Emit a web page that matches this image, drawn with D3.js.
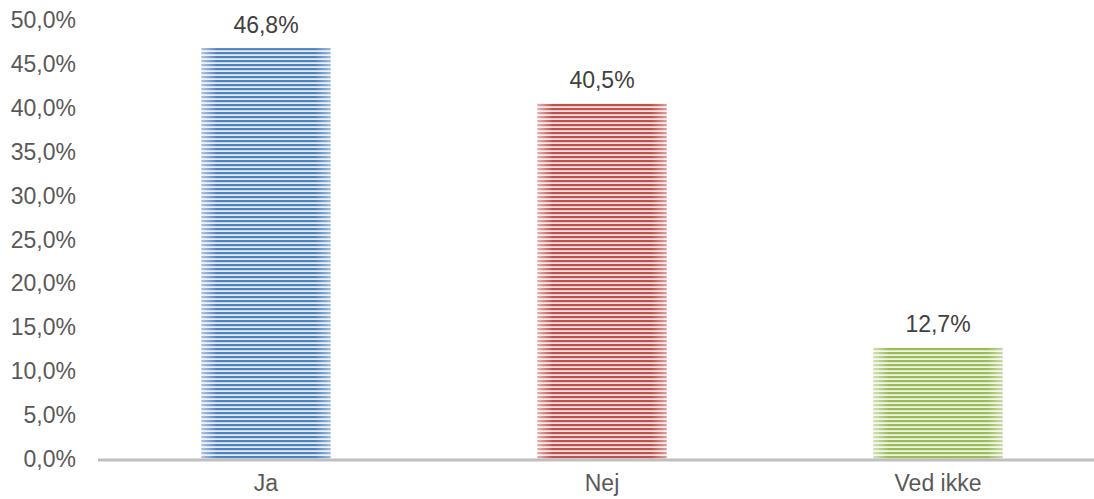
<!DOCTYPE html>
<html>
<head>
<meta charset="utf-8">
<script src="https://cdn.jsdelivr.net/npm/d3@7"></script>
<style>
	html, body { margin: 0; padding: 0; background: #fff; }
	svg { display: block; font-family: 'Liberation Sans', Arial, sans-serif; }
</style>
</head>
<body>
<svg width="1094" height="499"></svg>
<script>
const w = 1094;
const h = 499;

// data
const categories = ['Ja', 'Nej', 'Ved ikke'];
const values = [46.8, 40.5, 12.7];
const valueLabels = ['46,8%', '40,5%', '12,7%'];
const yTicks = [0, 5, 10, 15, 20, 25, 30, 35, 40, 45, 50];

const colors = [
	{ dark: '#4f81bd', light: '#e4ecf7' },
	{ dark: '#c0504d', light: '#f4e2e1' },
	{ dark: '#9bbb59', light: '#eef4e2' },
];

const svg = d3.select('svg');
const defs = svg.append('defs');

const xScale = d3.scaleBand()
	.domain(categories)
	.range([98, 1106])
	.paddingInner(0.616)
	.paddingOuter(0.308);

const yScale = d3.scaleLinear()
	.domain([0, 50])
	.range([459, 20]);

// stripe patterns
colors.forEach((c, i) => {
	const p = defs.append('pattern')
		.attr('id', 'stripe' + i)
		.attr('patternUnits', 'userSpaceOnUse')
		.attr('width', 8)
		.attr('height', 4);
	p.append('rect').attr('width', 8).attr('height', 4).attr('fill', c.light);
	p.append('rect').attr('width', 8).attr('height', 2.2).attr('fill', c.dark);
});

// edge shading
const grad = defs.append('linearGradient').attr('id', 'edge');
[[0, 0.55], [0.12, 0], [0.88, 0], [1, 0.45]].forEach(([o, a]) => {
	grad.append('stop').attr('offset', o).attr('stop-color', '#fff').attr('stop-opacity', a);
});

// y axis labels
svg.append('g')
	.selectAll('text')
	.data(yTicks)
	.enter()
	.append('text')
	.attr('x', 76)
	.attr('y', (d) => yScale(d))
	.attr('dy', '0.35em')
	.attr('text-anchor', 'end')
	.attr('font-size', 23)
	.attr('fill', '#595959')
	.text((d) => d.toFixed(1).replace('.', ',') + '%');

// bars
const bars = svg.append('g')
	.selectAll('g')
	.data(values)
	.enter()
	.append('g');

bars.append('rect')
	.attr('x', (d, i) => xScale(categories[i]))
	.attr('y', (d) => yScale(d))
	.attr('width', xScale.bandwidth())
	.attr('height', (d) => yScale(0) - yScale(d))
	.attr('fill', (d, i) => `url(#stripe${i})`);

bars.append('rect')
	.attr('x', (d, i) => xScale(categories[i]))
	.attr('y', (d) => yScale(d))
	.attr('width', xScale.bandwidth())
	.attr('height', (d) => yScale(0) - yScale(d))
	.attr('fill', 'url(#edge)');

// value labels
bars.append('text')
	.attr('x', (d, i) => xScale(categories[i]) + xScale.bandwidth() / 2)
	.attr('y', (d) => yScale(d) - 15)
	.attr('text-anchor', 'middle')
	.attr('font-size', 23)
	.attr('fill', '#404040')
	.text((d, i) => valueLabels[i]);

// x axis
const xAxis = d3.axisBottom(xScale).tickSize(0).tickPadding(15);
const gx = svg.append('g')
	.attr('transform', `translate(0,${yScale(0) + 1})`)
	.call(xAxis);
gx.select('.domain').attr('stroke', '#bfbfbf').attr('stroke-width', 3).attr('d', 'M98,0H1094');
gx.selectAll('text')
	.attr('font-size', 23)
	.attr('font-family', "'Liberation Sans', Arial, sans-serif")
	.attr('fill', '#595959');
</script>
</body>
</html>
